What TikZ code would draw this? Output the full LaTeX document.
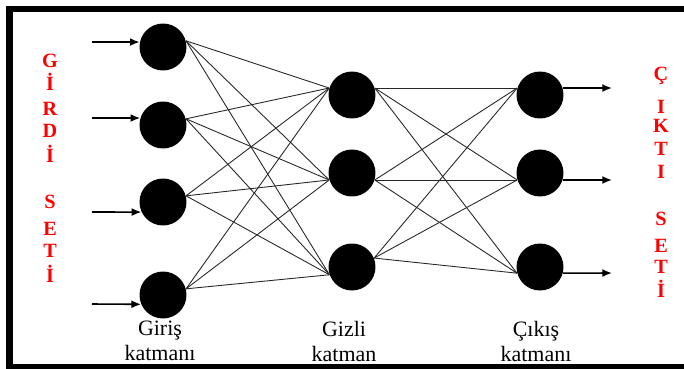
\documentclass[tikz,border=0pt]{standalone}
\usepackage{fontspec}
\setmainfont{Liberation Serif}
\usetikzlibrary{arrows.meta}

\begin{document}
\begin{tikzpicture}[x=0.02cm,y=-0.02cm,
  neuron/.style={circle,fill=black,minimum size=0.94cm,inner sep=0pt},
  link/.style={black!85,line width=0.5pt},
  io/.style={-{Latex[length=5.5pt,width=4.5pt]},line width=0.9pt},
  letter/.style={red,anchor=base,inner sep=0pt,font=\fontsize{11.5}{11.5}\selectfont\bfseries},
  layer/.style={align=center,anchor=north,inner sep=0pt,font=\fontsize{12.5}{14.2}\selectfont}]
\useasboundingbox (0,0) rectangle (684,369);

% frame (open to the right)
\draw[line width=0.13cm] (700,9) -- (9.5,9) -- (9.5,367) -- (700,367);

% input layer
\node[neuron] (I1) at (163,47) {};
\node[neuron] (I2) at (163,125) {};
\node[neuron] (I3) at (163,202) {};
\node[neuron] (I4) at (163,295) {};

% hidden layer
\node[neuron] (H1) at (352,95) {};
\node[neuron] (H2) at (352,173) {};
\node[neuron] (H3) at (352,267) {};

% output layer
\node[neuron] (O1) at (540,95) {};
\node[neuron] (O2) at (540,173) {};
\node[neuron] (O3) at (540,267) {};

% incoming and outgoing signals
\coordinate (x1) at (92,42);
\coordinate (x2) at (92,118);
\coordinate (x3) at (92,212);
\coordinate (x4) at (92,304);
\coordinate (y1) at (612,88);
\coordinate (y2) at (612,180);
\coordinate (y3) at (612,273);

\draw[io] (x1) -- (I1.168);
\draw[io] (x2) -- (I2.163);
\draw[io] (x3) -- (I3.205);
\draw[io] (x4) -- (I4.203);

\draw[io] (O1.17) -- (y1);
\draw[io] (O2.-17) -- (y2);
\draw[io] (O3.-15) -- (y3);

% weights
\foreach \i in {1,...,4}
  \foreach \h/\a in {1/163,2/197,3/199}
    \draw[link] (I\i.15) -- (H\h.\a);

\foreach \h/\b in {1/17,2/-17,3/22}
  \foreach \o/\c in {1/163,2/197,3/195}
    \draw[link] (H\h.\b) -- (O\o.\c);

% vertical captions
\foreach \t/\y [count=\k] in {G/67,İ/90,R/115,D/137,İ/162,S/208,E/235,T/257,İ/282}
  \node[letter] (in\k) at (50,\y) {\t};
\foreach \t/\y [count=\k] in {Ç/80,I/113,K/132,T/155,I/178,S/225,E/252,T/273,İ/297}
  \node[letter] (out\k) at (661,\y) {\t};

% layer names
\node[layer] (Lin) at (160,321) {Giriş\\katmanı};
\node[layer] (Lhid) at (344,321) {Gizli\\katman};
\node[layer] (Lout) at (536,321) {Çıkış\\katmanı};

\end{tikzpicture}
\end{document}
